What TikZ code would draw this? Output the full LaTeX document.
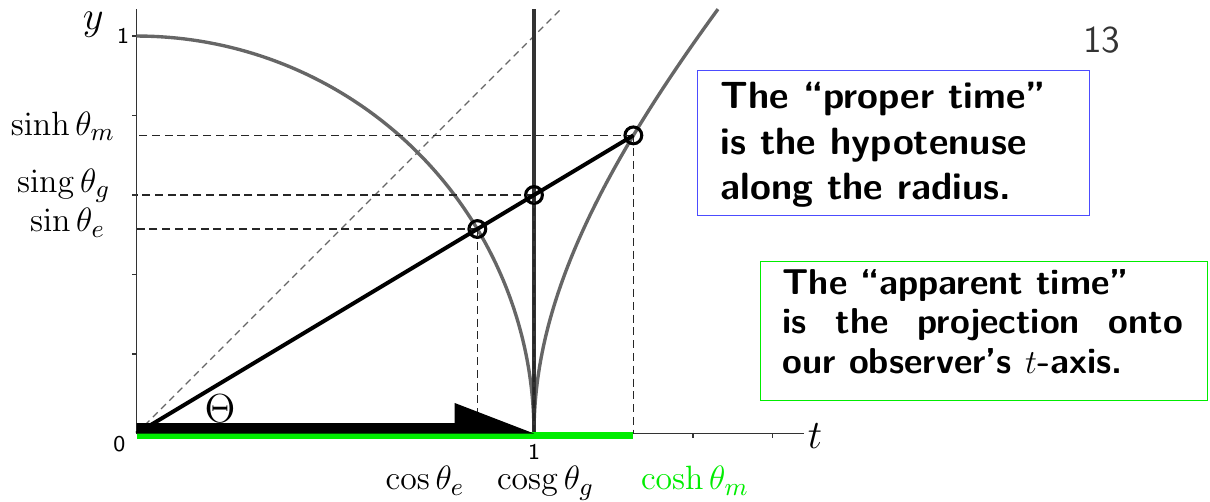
\documentclass[tikz,border=0pt]{standalone}
\usetikzlibrary{positioning}
\definecolor{brightgreen}{rgb}{0,0.93,0}
\definecolor{curvegray}{gray}{0.4}
\definecolor{noteblue}{rgb}{0.3,0.3,1}

\begin{document}
\begin{tikzpicture}[x=4.97cm, y=4.97cm,
    axis/.style={black!80, line width=0.55pt},
    curve/.style={curvegray, line width=1.2pt},
    proj/.style={black!85, line width=0.6pt, dash pattern=on 0.1cm off 0.06cm},
    pt/.style={circle, draw, line width=1.1pt, minimum size=0.21cm, inner sep=0pt},
    mlabel/.style={font=\fontsize{13}{15}\selectfont},
    biglabel/.style={font=\fontsize{14}{16}\selectfont, inner sep=0pt},
    num/.style={font=\sffamily\fontsize{8}{9}\selectfont},
    notebox/.style={draw=#1, line width=0.5pt, anchor=north west, inner sep=0pt},
    notetext/.style={anchor=north west, inner sep=0pt}]
    \useasboundingbox (-0.3434,-0.1698) rectangle (2.7006,1.0906);

    \pgfmathsetmacro{\cosE}{1/sqrt(1.36)}
    \pgfmathsetmacro{\sinE}{0.6/sqrt(1.36)}
    \pgfmathsetmacro{\coshM}{1.25}
    \pgfmathsetmacro{\sinhM}{0.75}
    \coordinate (O) at (0,0);

    % Axes
    \draw[axis] (0,0) -- (1.68,0);
    \draw[axis] (0,0) -- (0,1.068);
    \foreach \k in {1,...,5} \draw[axis] (0,{\k/5}) -- (-0.0125,{\k/5});
    \foreach \k in {1,...,8} \draw[axis] ({\k/5},0) -- ({\k/5},-0.011);
    \node[biglabel] (ylab) at (-0.109,1.028) {$y$};
    \node[biglabel] (tlab) at (1.707,-0.0075) {$t$};
    \node[num] (yone) at (-0.034,1.0) {1};
    \node[num] (zero) at (-0.043,-0.026) {0};
    \node[num] (tone) at (1.0,-0.047) {1};

    % Light-line and the three curves
    \draw[curvegray, line width=0.45pt, dash pattern=on 0.085cm off 0.06cm] (0,0) -- (1.068,1.068);
    \draw[curve, domain=0:90, samples=60, smooth, variable=\t]
        plot ({cos(\t)}, {sin(\t)});
    \draw[curve, domain=0:1.068, samples=40, smooth, variable=\v]
        plot ({sqrt(1+\v*\v)}, {\v});
    \draw[black!80, line width=1.1pt] (1,0) -- (1,1.068);

    % Points on the radius
    \node[pt] (pe) at (\cosE,\sinE) {};
    \node[pt] (pg) at (1,0.6) {};
    \node[pt] (pm) at (\coshM,\sinhM) {};

    % Projections onto the axes
    \foreach \p in {pe,pg,pm} {
        \draw[proj] (\p.center) -- (\p.center -| O);
        \draw[proj] (\p.center) -- (\p.center |- O);
    }
    \draw[line width=1.4pt] (O) -- (pm.center);

    % Apparent time and proper time along t
    \draw[brightgreen, line width=2.8pt] (0,-0.005) -- (\coshM,-0.005);
    \fill (0,0) -- (0,0.026) -- (0.8,0.026) -- (0.8,0.077) -- (1,0) -- cycle;
    \node[biglabel] (Theta) at (0.21,0.0616) {$\Theta$};

    % Labels
    \node[mlabel, anchor=base east] (sinhlab) at (-0.029,0.75) {$\sinh\theta_m$};
    \node[mlabel, anchor=base east] (singlab) at (-0.041,0.607) {$\mathop{\mathrm{sing}}\theta_g$};
    \node[mlabel, anchor=base east] (sinlab) at (-0.054,0.507) {$\sin\theta_e$};
    \node[mlabel, anchor=base] (coslab) at (0.726,-0.142) {$\cos\theta_e$};
    \node[mlabel, anchor=base] (cosglab) at (1.029,-0.142) {$\mathop{\mathrm{cosg}}\theta_g$};
    \node[mlabel, anchor=base, text=brightgreen] (coshlab) at (1.405,-0.142) {$\cosh\theta_m$};

    % Notes
    \node[black!80, font=\sffamily\fontsize{13.5}{16}\selectfont] (pagenum) at (2.428,0.991) {13};
    \node[notebox=noteblue, minimum width=4.9cm, minimum height=1.8125cm] (properbox) at (1.410,0.9145) {};
    \node[notetext, align=left, font=\sffamily\bfseries\fontsize{13.5}{16.2}\selectfont]
        (propertext) at ([xshift=0.29cm, yshift=-0.15cm]properbox.north west)
        {The ``proper time''\\ is the hypotenuse\\ along the radius.};
    \node[notebox=brightgreen, minimum width=5.5875cm, minimum height=1.7375cm] (apparentbox) at (1.5686,0.434) {};
    \node[notetext, text width=5.01cm, align=justify, font=\sffamily\bfseries\fontsize{12.8}{14}\selectfont]
        (apparenttext) at ([xshift=0.275cm, yshift=-0.1cm]apparentbox.north west)
        {The ``apparent time''\\ is the projection onto\linebreak our observer's $t$-axis.};
\end{tikzpicture}
\end{document}
